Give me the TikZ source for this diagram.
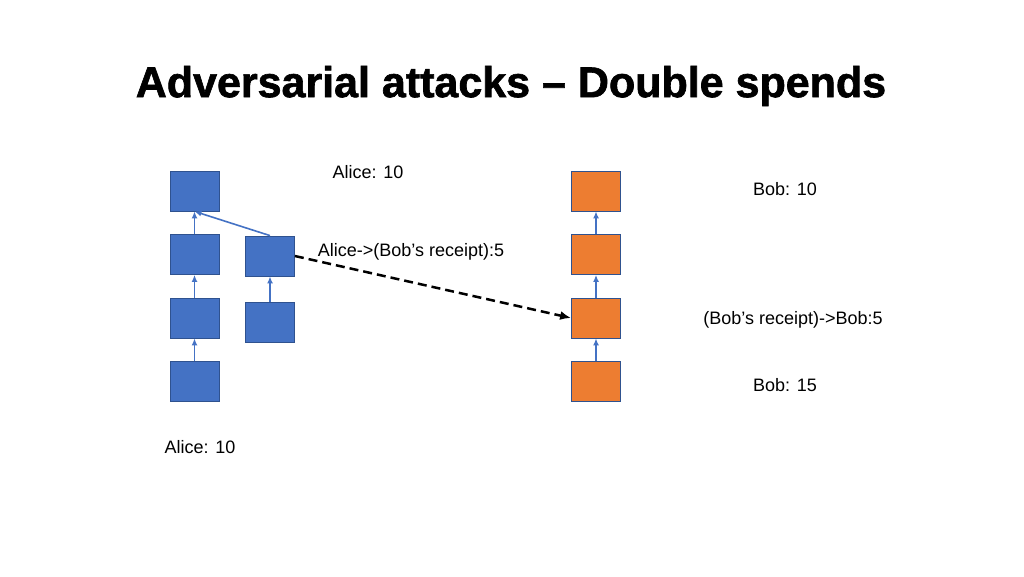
\documentclass[tikz,border=0pt]{standalone}
\usepackage{fontspec}
\setmainfont{Liberation Sans}
\newfontfamily\titlefont{Liberation Sans Bold}[FakeBold=1.5,Ligatures=TeX]
\usepackage{tikz}
\usetikzlibrary{positioning,arrows.meta}

\definecolor{blockblue}{HTML}{4472C4}
\definecolor{edgeblue}{HTML}{2F528F}
\definecolor{blockorange}{HTML}{ED7D31}

\begin{document}
\begin{tikzpicture}
  [x=1pt, y=-1pt,
   block/.style={rectangle, draw=edgeblue, line width=0.8pt, minimum width=49pt, minimum height=40pt, inner sep=0pt},
   alice/.style={block, fill=blockblue},
   bob/.style={block, fill=blockorange},
   link/.style={-{Latex[length=7pt,width=6pt]}, draw=blockblue, line width=1.6pt},
   label/.style={font=\fontsize{18}{20}\selectfont, inner sep=0pt}]
  \useasboundingbox (0,0) rectangle (1024,576);

  \node (title) at (511,86) {\titlefont\fontsize{43}{47}\selectfont Adversarial attacks – Double spends};

  % Alice's chain
  \node (A1) [alice] at (194.5,191) {};
  \node (A2) [alice] at (194.5,254.5) {};
  \node (A3) [alice] at (194.5,318) {};
  \node (A4) [alice] at (194.5,381.5) {};

  % the fork
  \node (F1) [alice] at (270,256) {};
  \node (F2) [alice] at (270,322) {};

  % Bob's chain
  \node (B1) [bob] at (596,191) {};
  \node (B2) [bob] at (596,254.5) {};
  \node (B3) [bob] at (596,318) {};
  \node (B4) [bob] at (596,381.5) {};

  \node (alicetop) [label] at (368,172) {Alice: 10};
  \node (alicebot) [label] at (200,447) {Alice: 10};
  \node (pay) [label] at (411,252) {Alice->(Bob’s receipt):5};
  \node (bobtop) [label] at (785,189) {Bob: 10};
  \node (receipt) [label] at (793,320) {(Bob’s receipt)->Bob:5};
  \node (bobbot) [label] at (785,385) {Bob: 15};

  \draw [link] (A4) -- (A3);
  \draw [link] (A3) -- (A2);
  \draw [link] (A2) -- (A1);
  \draw [link] (F2) -- (F1);
  \draw [link] (F1.north) -- (A1.south);
  \draw [link] (B4) -- (B3);
  \draw [link] (B3) -- (B2);
  \draw [link] (B2) -- (B1);

  \draw [-{Latex[length=11pt,width=9pt]}, line width=2.5pt, dash pattern=on 9pt off 5pt] (F1.east) -- (B3.west);
\end{tikzpicture}
\end{document}
